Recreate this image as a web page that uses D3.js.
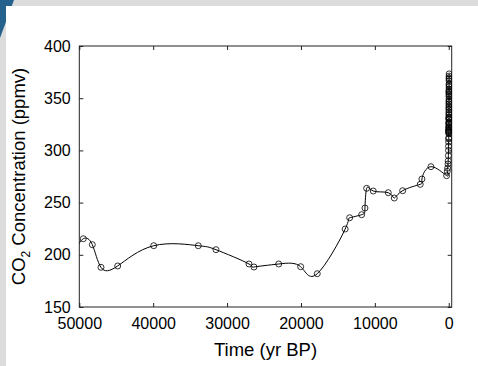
<!DOCTYPE html>
<html>
<head>
<meta charset="utf-8">
<script src="https://cdn.jsdelivr.net/npm/d3@7"></script>
<style>
  html, body { margin: 0; padding: 0; background: #dcdcdc; }
  svg { display: block; }
  text { font-family: "Liberation Sans", Arial, sans-serif; fill: #000; }
</style>
</head>
<body>
<div id="chart"></div>
<script>
// ice core record (yr BP, ppmv), oldest first
const iceYears = [50600, 49459, 48241, 47064, 44804, 39932, 33897, 31502, 27037, 26360,
  23017, 20041, 17794, 14018, 13410, 11786, 11340, 11110, 10217, 8187, 7375, 6238,
  3857, 3627, 2409, 285, 200, 150, 100, 75, 50, 35, 25, 15, 5, 0];
const iceCO2 = [204, 215.4, 209.7, 188, 189.3, 208.7, 208.7, 204.9, 191.2, 188.3,
  191.2, 188.6, 181.9, 224.7, 235.5, 238.4, 244.8, 263.7, 261.1, 259.5, 254.4, 261.4,
  267.5, 272.6, 284.4, 275.8, 280, 283, 287, 290, 295, 300, 304, 308, 311, 312];

// Mauna Loa annual means 1959-2002 (yr BP relative to 1950)
const mloYears = [-9, -10, -11, -12, -13, -14, -15, -16, -17, -18, -19, -20, -21, -22,
  -23, -24, -25, -26, -27, -28, -29, -30, -31, -32, -33, -34, -35, -36, -37, -38, -39,
  -40, -41, -42, -43, -44, -45, -46, -47, -48, -49, -50, -51, -52];
const mloCO2 = [315.98, 316.91, 317.64, 318.45, 318.99, 319.62, 320.04, 321.38, 322.16,
  323.04, 324.62, 325.68, 326.32, 327.45, 329.68, 330.18, 331.11, 332.04, 333.83, 335.40,
  336.84, 338.75, 340.11, 341.45, 343.05, 344.65, 346.12, 347.42, 349.19, 351.57, 353.12,
  354.39, 355.61, 356.45, 357.10, 358.83, 360.82, 362.61, 363.73, 366.70, 368.38, 369.55,
  371.14, 373.28];

const xTicks = [50000, 40000, 30000, 20000, 10000, 0];
const yTicks = [150, 200, 250, 300, 350, 400];

const W = 478, H = 366;
const margin = { top: 46, right: 26.3, bottom: 59, left: 79.3 };
const width = W - margin.left - margin.right;
const height = H - margin.top - margin.bottom;

const data = iceYears.map((y, i) => [y, iceCO2[i]])
  .concat(mloYears.map((y, i) => [y, mloCO2[i]]));

const svg = d3.select('#chart').append('svg')
  .attr('width', W)
  .attr('height', H);

// page frame
svg.append('rect').attr('width', W).attr('height', H).attr('fill', '#dcdcdc');
svg.append('path').attr('d', 'M0,0 L14,0 L0,38 Z').attr('fill', '#25618d');
svg.append('rect').attr('x', 6).attr('y', 6).attr('width', W - 6).attr('height', H - 6)
  .attr('fill', '#fff');

const g = svg.append('g')
  .attr('transform', 'translate(' + margin.left + ',' + margin.top + ')');

// scales
const x = d3.scaleLinear().domain([50000, -400]).range([0, width]);
const y = d3.scaleLinear().domain([150, 400]).range([height, 0]);

g.append('clipPath').attr('id', 'clip')
  .append('rect').attr('width', width).attr('height', height);

// axes, ticks inward on all four sides
const tick = 4;
const axisStyle = sel => {
  sel.select('.domain').remove();
  sel.selectAll('line').attr('stroke', '#222');
  sel.selectAll('text').style('font-size', '16px');
};

g.append('g').attr('transform', 'translate(0,' + height + ')')
  .call(d3.axisBottom(x).tickValues(xTicks).tickFormat(d3.format('d'))
    .tickSize(-tick).tickPadding(11))
  .call(axisStyle);
g.append('g')
  .call(d3.axisTop(x).tickValues(xTicks).tickSize(-tick).tickFormat(''))
  .call(axisStyle);
g.append('g')
  .call(d3.axisLeft(y).tickValues(yTicks).tickSize(-tick).tickPadding(8.6))
  .call(axisStyle);
g.append('g').attr('transform', 'translate(' + width + ',0)')
  .call(d3.axisRight(y).tickValues(yTicks).tickSize(-tick).tickFormat(''))
  .call(axisStyle);

g.append('rect')
  .attr('width', width).attr('height', height)
  .attr('fill', 'none').attr('stroke', '#222').attr('stroke-width', 1);

// curve + markers
const plot = g.append('g').attr('clip-path', 'url(#clip)');

plot.append('path')
  .datum(data)
  .attr('fill', 'none')
  .attr('stroke', '#000')
  .attr('stroke-width', 1)
  .attr('d', d3.line().x(d => x(d[0])).y(d => y(d[1])).curve(d3.curveNatural));

plot.selectAll('circle')
  .data(data)
  .join('circle')
  .attr('cx', d => x(d[0]))
  .attr('cy', d => y(d[1]))
  .attr('r', 3)
  .attr('fill', 'none')
  .attr('stroke', '#000')
  .attr('stroke-width', 0.8);

// labels
svg.append('text')
  .attr('x', margin.left + width / 2)
  .attr('y', 356)
  .attr('text-anchor', 'middle')
  .style('font-size', '18.5px')
  .text('Time (yr BP)');

const yl = svg.append('text')
  .attr('transform', 'translate(25,' + (margin.top + height / 2) + ') rotate(-90)')
  .attr('text-anchor', 'middle')
  .style('font-size', '18.5px');
yl.append('tspan').text('CO');
yl.append('tspan').attr('dy', 5).style('font-size', '12px').text('2');
yl.append('tspan').attr('dy', -5).text(' Concentration (ppmv)');
</script>
</body>
</html>
